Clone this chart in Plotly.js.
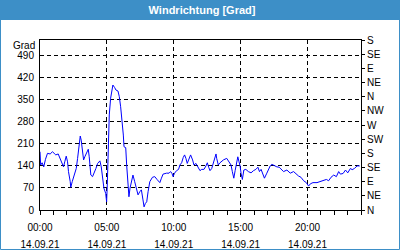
<!DOCTYPE html>
<html>
<head>
<meta charset="utf-8">
<script src="https://cdn.plot.ly/plotly-3.0.1.min.js"></script>
<style>html,body{margin:0;padding:0;background:#fff;}#chart{width:400px;height:250px;}</style>
</head>
<body>
<div id="chart"></div>
<script>
// time of day in hours (14.09.21)
const hours = [0.0,0.05,0.16,0.28,0.41,0.56,0.76,0.93,1.06,1.18,1.36,1.51,1.61,1.76,1.85,1.96,2.06,2.13,2.26,2.30,2.41,2.56,2.71,2.81,2.90,3.01,3.08,3.16,3.26,3.35,3.48,3.61,3.68,3.80,3.93,4.06,4.18,4.31,4.48,4.58,4.68,4.78,4.91,4.98,5.03,5.11,5.18,5.28,5.36,5.45,5.58,5.68,5.83,5.93,6.03,6.13,6.23,6.28,6.41,6.48,6.58,6.65,6.73,6.83,6.95,7.08,7.21,7.33,7.46,7.58,7.70,7.78,7.88,7.98,8.08,8.15,8.21,8.41,8.58,8.75,8.96,9.08,9.20,9.46,9.65,9.76,9.86,9.95,10.06,10.21,10.36,10.46,10.59,10.71,10.81,10.91,11.01,11.11,11.26,11.41,11.51,11.66,11.83,11.96,12.09,12.26,12.41,12.51,12.61,12.71,12.84,12.96,13.08,13.16,13.21,13.33,13.46,13.71,13.96,14.13,14.28,14.38,14.49,14.59,14.68,14.79,14.88,14.96,15.03,15.13,15.24,15.39,15.58,15.78,15.96,16.14,16.29,16.41,16.53,16.66,16.78,16.96,17.08,17.21,17.34,17.53,17.71,17.88,18.03,18.21,18.46,18.71,18.96,19.16,19.33,19.51,19.71,19.91,20.08,20.21,20.41,20.71,20.96,21.21,21.41,21.58,21.76,21.96,22.16,22.33,22.46,22.66,22.84,23.01,23.21,23.34,23.51,23.71,23.91];
// wind direction in degrees
const direction = [185,143,150,137,161,180,178,185,180,175,178,164,153,137,153,171,153,122,90,72,90,111,132,164,206,235,222,185,159,169,180,193,169,111,106,117,132,148,156,137,101,69,53,26,79,217,302,355,381,397,389,381,378,360,328,291,238,201,198,143,85,42,69,90,111,90,69,48,58,64,32,10,21,26,58,85,90,104,106,97,87,101,114,117,117,122,117,106,117,125,129,143,150,167,175,164,148,159,175,159,143,148,136,125,129,129,140,150,136,125,132,148,161,178,164,143,150,159,164,153,143,122,101,125,143,169,153,140,117,97,127,129,122,118,125,129,136,122,129,111,101,117,127,140,145,140,137,136,129,122,127,117,122,114,108,104,93,87,76,83,87,87,90,95,97,93,104,111,106,122,114,116,127,118,132,128,132,140,140];

const xTickVals = [0,5,10,15,20];
const xTickTime = ["00:00","05:00","10:00","15:00","20:00"];
const xTickDate = ["14.09.21","14.09.21","14.09.21","14.09.21","14.09.21"];
const yTickVals = [0,70,140,210,280,350,420,490];
const compassVals = [0,45,90,135,180,225,270,315,360,405,450,495,540];
const compassText = ["N","NE","E","SE","S","SW","W","NW","N","NE","E","SE","S"];

const font = "Liberation Sans, Arial, sans-serif";
const sp = s => "<span style='font-size:10px'>" + s + "</span>";
const xTickText = xTickTime.map((t,i) => sp(t) + "<br>" + sp(xTickDate[i]));

const trace = {
  x: hours, y: direction, type: "scatter", mode: "lines",
  line: {color: "#0000ff", width: 1}, hoverinfo: "skip", showlegend: false
};
const trace2 = {x: [0], y: [0], yaxis: "y2", type: "scatter", mode: "lines",
  line: {width: 0}, hoverinfo: "skip", showlegend: false};

const W = 321, H = 170;
const layout = {
  width: 400, height: 250,
  margin: {l: 40, r: 39, t: 40, b: 40},
  paper_bgcolor: "#ffffff", plot_bgcolor: "#ffffff",
  font: {family: font, size: 10, color: "#000"},
  title: {text: "Windrichtung [Grad]", font: {family: font, size: 11, color: "#ffffff", weight: "bold"},
          x: 0.505, xanchor: "center", y: 1 - 10/250, yanchor: "middle", yref: "container"},
  xaxis: {
    range: [0, 24], tickvals: xTickVals, ticktext: xTickText,
    tickfont: {family: font, size: 13, color: "#000"},
    ticks: "outside", ticklen: 4, tickcolor: "#000", tickwidth: 1,
    minor: {dtick: 1, tick0: 0, ticks: "outside", ticklen: 4, tickcolor: "#000", showgrid: false},
    showgrid: true, gridcolor: "#000", griddash: "4px,3px", gridwidth: 1,
    showline: true, linecolor: "#000", linewidth: 1, mirror: true, zeroline: false,
    fixedrange: true
  },
  yaxis: {
    range: [0, 540], tickvals: yTickVals, ticks: "", ticklabelstandoff: 3,
    tickfont: {family: font, size: 10, color: "#000"},
    showgrid: true, gridcolor: "#000", griddash: "4px,3px", gridwidth: 1,
    showline: true, linecolor: "#000", linewidth: 1, mirror: true, zeroline: false
  },
  yaxis2: {
    range: [0, 540], overlaying: "y", side: "right", tickvals: compassVals, ticktext: compassText,
    ticks: "outside", ticklen: 3, tickcolor: "#000",
    tickfont: {family: font, size: 10, color: "#000"},
    showgrid: false, showline: true, linecolor: "#000", zeroline: false
  },
  shapes: [
    {type: "rect", xref: "paper", yref: "paper", layer: "below",
     x0: -40/W, x1: 360/W, y0: (210-20)/H, y1: 210/H,
     fillcolor: "#3d8fc7", line: {width: 0}},
    {type: "rect", xref: "paper", yref: "paper", layer: "below",
     x0: (0.5-40)/W, x1: (399.5-40)/W, y0: (210-249.5)/H, y1: (210-0.5)/H,
     fillcolor: "rgba(0,0,0,0)", line: {color: "#3d8fc7", width: 1}}
  ],
  annotations: [
    {text: "Grad", xref: "paper", yref: "paper", x: 0, y: 1, xanchor: "right", yanchor: "middle",
     xshift: -3, yshift: -5, showarrow: false, font: {family: font, size: 10, color: "#000"}}
  ]
};

Plotly.newPlot("chart", [trace, trace2], layout, {staticPlot: true, displayModeBar: false});
</script>
</body>
</html>
